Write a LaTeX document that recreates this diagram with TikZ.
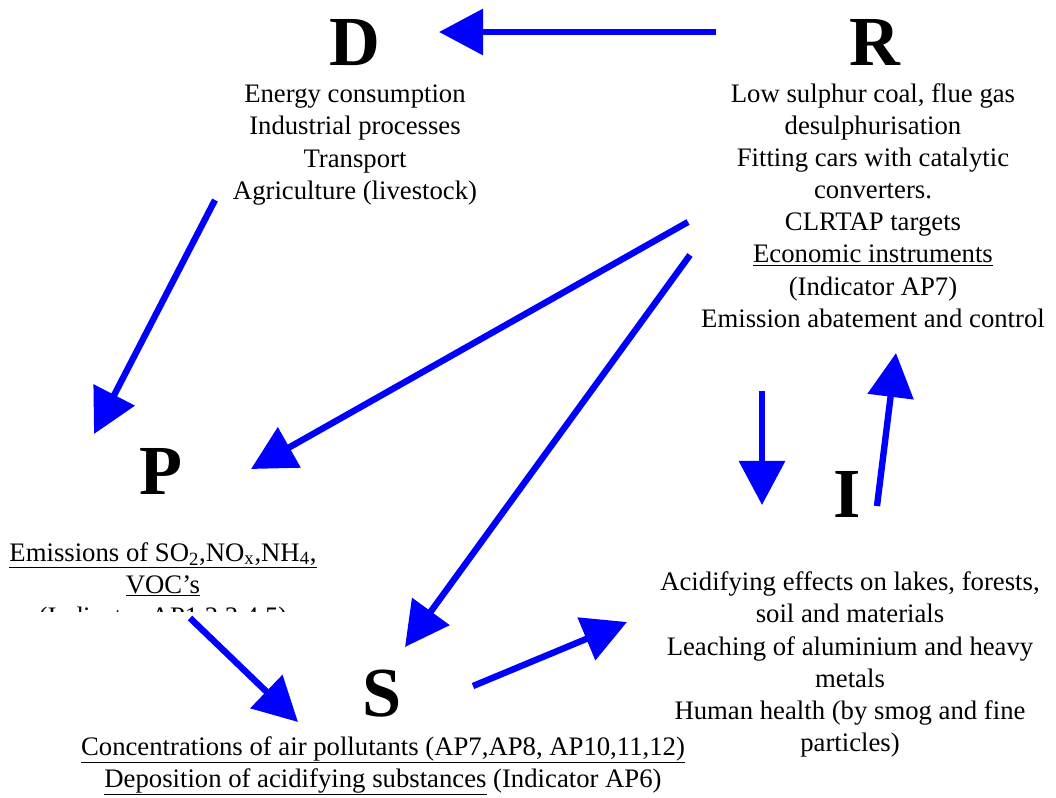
\documentclass[tikz,border=0pt]{standalone}
\usepackage{fontspec}
\setmainfont{Liberation Serif}
\usetikzlibrary{arrows.meta}

\begin{document}
\begin{tikzpicture}[x=0.025cm, y=-0.025cm,
  letter/.style={inner sep=0, anchor=base, font=\fontsize{50}{60}\selectfont\bfseries},
  txt/.style={inner sep=0, anchor=base, align=center, font=\fontsize{19}{22.76}\selectfont},
  flow/.style={draw=blue, line width=0.16cm, -{Triangle[length=1.1cm, width=1.125cm]}}]
  \useasboundingbox (0,0) rectangle (1056,797);

  \node[letter] (D) at (355,65) {D};
  \node[letter] (R) at (875,65) {R};
  \node[letter] (P) at (161,494) {P};
  \node[letter] (S) at (382,716) {S};
  \node[letter] (I) at (847,517) {I};

  \node[txt] (drivers) at (355,199) {Energy consumption\\Industrial processes\\Transport\\Agriculture (livestock)};
  \node[txt] (responses) at (873,327) {Low sulphur coal, flue gas\\desulphurisation\\Fitting cars with catalytic\\converters.\\CLRTAP targets\\\underline{Economic instruments}\\(Indicator AP7)\\Emission abatement and control};
  \begin{scope}
    \clip (0,0) rectangle (1056,611);
    \node[txt] (pressures) at (163,625) {\underline{Emissions of SO\textsubscript{2},NO\textsubscript{x},NH\textsubscript{4},}\\\underline{VOC’s}\\(Indicator AP1,2,3,4,5)};
  \end{scope}
  \node[txt] (state) at (383,787) {\underline{Concentrations of air pollutants (AP7,AP8, AP10,11,12)}\\\underline{Deposition of acidifying substances} (Indicator AP6)};
  \node[txt] (impacts) at (850,751) {Acidifying effects on lakes, forests,\\soil and materials\\Leaching of aluminium and heavy\\metals\\Human health (by smog and fine\\particles)};

  \coordinate (RDa) at (716,32);  \coordinate (RDb) at (439,32);
  \coordinate (DPa) at (215,200); \coordinate (DPb) at (94,434);
  \coordinate (RPa) at (688,222); \coordinate (RPb) at (251,469);
  \coordinate (RSa) at (690,255); \coordinate (RSb) at (405,647);
  \coordinate (PSa) at (190,618); \coordinate (PSb) at (298,722);
  \coordinate (SIa) at (473,686); \coordinate (SIb) at (627,622);
  \coordinate (RIa) at (762,391); \coordinate (RIb) at (762,505);
  \coordinate (IRa) at (877,506); \coordinate (IRb) at (896,353);

  \draw[flow] (RDa) -- (RDb);
  \draw[flow] (DPa) -- (DPb);
  \draw[flow] (RPa) -- (RPb);
  \draw[flow] (RSa) -- (RSb);
  \draw[flow] (PSa) -- (PSb);
  \draw[flow] (SIa) -- (SIb);
  \draw[flow] (RIa) -- (RIb);
  \draw[flow] (IRa) -- (IRb);
\end{tikzpicture}
\end{document}
